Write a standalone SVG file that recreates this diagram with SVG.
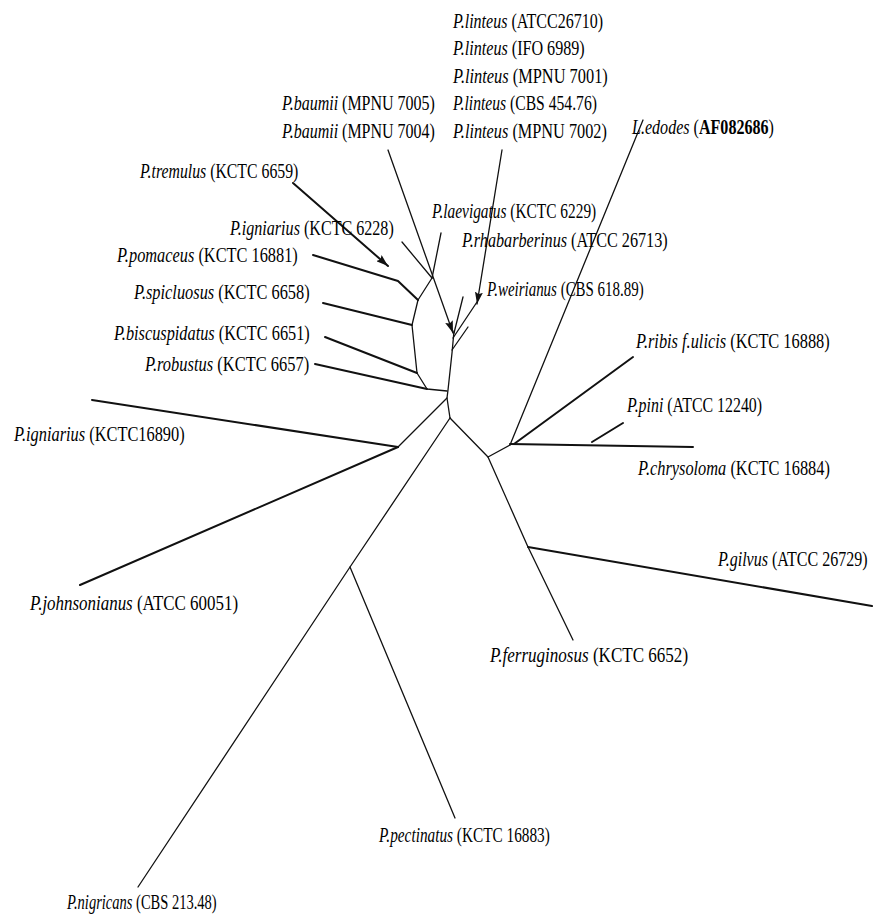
<svg xmlns="http://www.w3.org/2000/svg" width="877" height="922" viewBox="0 0 877 922">
<style>
text{font-family:"Liberation Serif","Times New Roman",serif;font-size:22px;fill:#000}
.i{font-style:italic}
.b{font-weight:bold}
.br{fill:none;stroke:#111;stroke-width:1.3;stroke-linejoin:round;stroke-linecap:round}
.bk{fill:none;stroke:#111;stroke-width:2;stroke-linejoin:round;stroke-linecap:round}
</style>
<defs>
<marker id="ah" viewBox="0 0 12 8" refX="12" refY="4" markerWidth="12" markerHeight="8" markerUnits="userSpaceOnUse" orient="auto">
<path d="M0,0 L12,4 L0,8 L2,4 z" fill="#111"/>
</marker>
</defs>
<rect width="877" height="922" fill="#fff"/>
<g id="branches">
<polyline class="br" points="454,331 452,353 448,390 447,398 450,418"/>
<polyline class="br" points="432,278 418,300 412,325 417,373 427,389 447,391"/>
<line class="br" x1="402" y1="242" x2="432" y2="278"/>
<line class="br" x1="441" y1="233" x2="432" y2="278"/>
<polyline class="bk" points="313,255 398,281 418,300"/>
<line class="bk" x1="323" y1="303" x2="412" y2="325"/>
<line class="bk" x1="325" y1="337" x2="417" y2="373"/>
<line class="bk" x1="315" y1="364" x2="427" y2="389"/>
<line class="bk" x1="293" y1="183" x2="388" y2="266" marker-end="url(#ah)"/>
<line class="br" x1="388" y1="150" x2="453" y2="333" marker-end="url(#ah)"/>
<line class="br" x1="502" y1="150" x2="477" y2="304" marker-end="url(#ah)"/>
<line class="br" x1="477" y1="302" x2="453" y2="338"/>
<line class="br" x1="463" y1="297" x2="454" y2="333"/>
<line class="br" x1="468" y1="327" x2="452" y2="350"/>
<line class="br" x1="447" y1="398" x2="398" y2="447"/>
<line class="bk" x1="92" y1="400" x2="398" y2="447"/>
<line class="bk" x1="80" y1="585" x2="398" y2="447"/>
<polyline class="br" points="450,418 350,567 138,887"/>
<line class="br" x1="350" y1="567" x2="455" y2="818"/>
<polyline class="br" points="450,418 488,457 528,547 573,640"/>
<line class="bk" x1="528" y1="547" x2="872" y2="606"/>
<line class="br" x1="488" y1="457" x2="510" y2="445"/>
<line class="br" x1="510" y1="445" x2="643" y2="120"/>
<line class="bk" x1="514" y1="444" x2="633" y2="357"/>
<line class="bk" x1="510" y1="444" x2="693" y2="447"/>
<line class="bk" x1="592" y1="442" x2="623" y2="423"/>
</g>
<g id="linteus-atcc26710"><text transform="translate(453,28) scale(0.728,1)"><tspan class="i">P.linteus</tspan> (ATCC26710)</text></g>
<g id="linteus-ifo6989"><text transform="translate(453,55) scale(0.733,1)"><tspan class="i">P.linteus</tspan> (IFO 6989)</text></g>
<g id="linteus-mpnu7001"><text transform="translate(453,83) scale(0.745,1)"><tspan class="i">P.linteus</tspan> (MPNU 7001)</text></g>
<g id="linteus-cbs45476"><text transform="translate(453,110) scale(0.711,1)"><tspan class="i">P.linteus</tspan> (CBS 454.76)</text></g>
<g id="linteus-mpnu7002"><text transform="translate(453,138) scale(0.740,1)"><tspan class="i">P.linteus</tspan> (MPNU 7002)</text></g>
<g id="baumii-mpnu7005"><text transform="translate(282,110) scale(0.727,1)"><tspan class="i">P.baumii</tspan> (MPNU 7005)</text></g>
<g id="baumii-mpnu7004"><text transform="translate(282,138) scale(0.727,1)"><tspan class="i">P.baumii</tspan> (MPNU 7004)</text></g>
<g id="ledodes"><text transform="translate(632,134) scale(0.731,1)"><tspan class="i">L.edodes</tspan> (<tspan class="b">AF082686</tspan>)</text></g>
<g id="tremulus"><text transform="translate(140,178) scale(0.718,1)"><tspan class="i">P.tremulus</tspan> (KCTC 6659)</text></g>
<g id="igniarius-6228"><text transform="translate(230,235) scale(0.732,1)"><tspan class="i">P.igniarius</tspan> (KCTC 6228)</text></g>
<g id="laevigatus"><text transform="translate(432,218) scale(0.700,1)"><tspan class="i">P.laevigatus</tspan> (KCTC 6229)</text></g>
<g id="rhabarberinus"><text transform="translate(462,247) scale(0.736,1)"><tspan class="i">P.rhabarberinus</tspan> (ATCC 26713)</text></g>
<g id="pomaceus"><text transform="translate(117,262) scale(0.743,1)"><tspan class="i">P.pomaceus</tspan> (KCTC 16881)</text></g>
<g id="weirianus"><text transform="translate(487,296) scale(0.680,1)"><tspan class="i">P.weirianus</tspan> (CBS 618.89)</text></g>
<g id="spicluosus"><text transform="translate(134,299) scale(0.745,1)"><tspan class="i">P.spicluosus</tspan> (KCTC 6658)</text></g>
<g id="biscuspidatus"><text transform="translate(114,340) scale(0.741,1)"><tspan class="i">P.biscuspidatus</tspan> (KCTC 6651)</text></g>
<g id="robustus"><text transform="translate(145,371) scale(0.749,1)"><tspan class="i">P.robustus</tspan> (KCTC 6657)</text></g>
<g id="ribis"><text transform="translate(636,348) scale(0.744,1)"><tspan class="i">P.ribis f.ulicis</tspan> (KCTC 16888)</text></g>
<g id="pini"><text transform="translate(627,412) scale(0.722,1)"><tspan class="i">P.pini</tspan> (ATCC 12240)</text></g>
<g id="igniarius-16890"><text transform="translate(14,441) scale(0.745,1)"><tspan class="i">P.igniarius</tspan> (KCTC16890)</text></g>
<g id="chrysoloma"><text transform="translate(638,475) scale(0.744,1)"><tspan class="i">P.chrysoloma</tspan> (KCTC 16884)</text></g>
<g id="gilvus"><text transform="translate(718,566) scale(0.728,1)"><tspan class="i">P.gilvus</tspan> (ATCC 26729)</text></g>
<g id="johnsonianus"><text transform="translate(30,610) scale(0.770,1)"><tspan class="i">P.johnsonianus</tspan> (ATCC 60051)</text></g>
<g id="ferruginosus"><text transform="translate(490,662) scale(0.775,1)"><tspan class="i">P.ferruginosus</tspan> (KCTC 6652)</text></g>
<g id="pectinatus"><text transform="translate(379,842) scale(0.695,1)"><tspan class="i">P.pectinatus</tspan> (KCTC 16883)</text></g>
<g id="nigricans"><text transform="translate(67,909) scale(0.660,1)"><tspan class="i">P.nigricans</tspan> (CBS 213.48)</text></g>
</svg>
